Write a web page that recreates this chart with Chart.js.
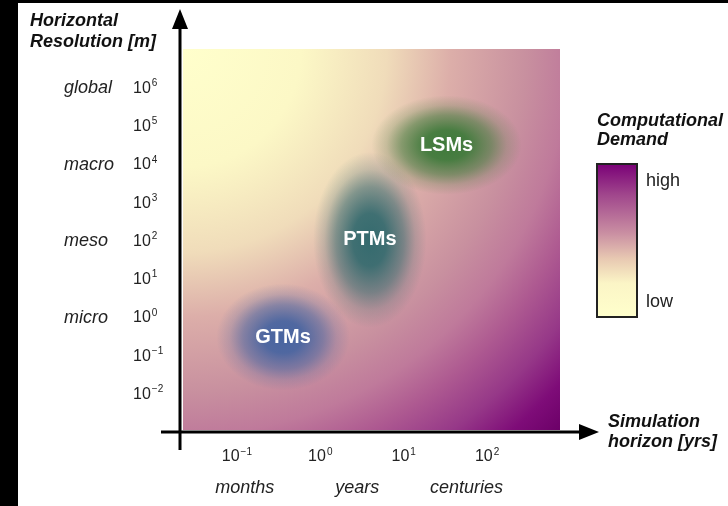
<!DOCTYPE html>
<html>
<head>
<meta charset="utf-8">
<script src="https://cdn.jsdelivr.net/npm/chart.js@4.4.0/dist/chart.umd.min.js"></script>
<style>
  html, body { margin: 0; padding: 0; background: #fff; }
  #wrap { position: relative; width: 728px; height: 506px; }
</style>
</head>
<body>
<div id="wrap"><canvas id="chart" width="728" height="506"></canvas></div>
<script>
// model groups, placed in log10 units of horizon (yrs) and resolution (m)
const modelNames = ['GTMs', 'PTMs', 'LSMs'];
const horizonLog = [-0.44, 0.6, 1.52];
const resolutionLog = [-0.5, 2.04, 4.52];
const horizonSpread = [0.8, 0.68, 0.9];
const resolutionSpread = [1.4, 2.3, 1.3];

// tick exponents and the named ranges next to them
const xTickExp = [-1, 0, 1, 2];
const yTickExp = [6, 5, 4, 3, 2, 1, 0, -1, -2];
const xNames = ['months', 'years', 'centuries'];
const xNamesAt = [-0.9, 0.45, 1.76];
const yNames = ['global', 'macro', 'meso', 'micro'];
const yNamesAt = [6, 4, 2, 0];

const blobColors = ['66,98,160', '46,104,108', '56,120,54'];
const FONT = "'Liberation Sans', Arial, sans-serif";

function supText(ctx, exp, x, y, align) {
  const e = exp < 0 ? '\u2212' + Math.abs(exp) : String(exp);
  ctx.font = '16px ' + FONT;
  const wb = ctx.measureText('10').width;
  ctx.font = '10px ' + FONT;
  const we = ctx.measureText(e).width;
  let x0 = align === 'center' ? x - (wb + we) / 2 : x;
  ctx.textAlign = 'left';
  ctx.textBaseline = 'middle';
  ctx.font = '16px ' + FONT;
  ctx.fillText('10', x0, y);
  ctx.font = '10px ' + FONT;
  ctx.fillText(e, x0 + wb + 1, y - 5);
}

const backdrop = {
  id: 'backdrop',
  beforeDatasetsDraw(chart) {
    const { ctx, chartArea: a } = chart;
    const r = Math.hypot(a.right - a.left, a.bottom - a.top);
    const g = ctx.createRadialGradient(a.left, a.top, 0, a.left, a.top, r);
    g.addColorStop(0, '#ffffcc');
    g.addColorStop(0.22, '#fcf8c6');
    g.addColorStop(0.38, '#f0dcba');
    g.addColorStop(0.5, '#dcaea9');
    g.addColorStop(0.64, '#c8909f');
    g.addColorStop(0.72, '#bf7a9b');
    g.addColorStop(0.79, '#ae5a91');
    g.addColorStop(0.87, '#963888');
    g.addColorStop(0.94, '#7e0c78');
    g.addColorStop(1, '#6c0068');
    ctx.save();
    ctx.fillStyle = g;
    ctx.fillRect(a.left, a.top, a.right - a.left, a.bottom - a.top);

    const xs = chart.scales.x, ys = chart.scales.y;
    modelNames.forEach((name, i) => {
      const cx = xs.getPixelForValue(horizonLog[i]);
      const cy = ys.getPixelForValue(resolutionLog[i]);
      const rx = Math.abs(xs.getPixelForValue(horizonLog[i] + horizonSpread[i]) - cx);
      const ry = Math.abs(ys.getPixelForValue(resolutionLog[i] + resolutionSpread[i]) - cy);
      ctx.save();
      ctx.translate(cx, cy);
      ctx.scale(rx, ry);
      const bg = ctx.createRadialGradient(0, 0, 0, 0, 0, 1);
      const c = blobColors[i];
      bg.addColorStop(0, 'rgba(' + c + ',0.96)');
      bg.addColorStop(0.3, 'rgba(' + c + ',0.9)');
      bg.addColorStop(0.6, 'rgba(' + c + ',0.55)');
      bg.addColorStop(0.8, 'rgba(' + c + ',0.2)');
      bg.addColorStop(1, 'rgba(' + c + ',0)');
      ctx.fillStyle = bg;
      ctx.beginPath();
      ctx.arc(0, 0, 1, 0, Math.PI * 2);
      ctx.fill();
      ctx.restore();
    });
    ctx.restore();
  },
  afterDraw(chart) {
    const { ctx } = chart;
    const xs = chart.scales.x, ys = chart.scales.y;
    ctx.save();

    // black frame strips from the source picture
    ctx.fillStyle = '#000';
    ctx.fillRect(0, 0, 18, 506);
    ctx.fillRect(0, 0, 728, 3);

    // model labels
    ctx.fillStyle = '#fff';
    ctx.font = 'bold 20px ' + FONT;
    ctx.textAlign = 'center';
    ctx.textBaseline = 'middle';
    modelNames.forEach((name, i) => {
      ctx.fillText(name, xs.getPixelForValue(horizonLog[i]), ys.getPixelForValue(resolutionLog[i]));
    });

    // axes with arrows
    const ax = 180, ay = 432;
    ctx.strokeStyle = '#000';
    ctx.fillStyle = '#000';
    ctx.lineWidth = 3;
    ctx.beginPath();
    ctx.moveTo(ax, 450); ctx.lineTo(ax, 26);
    ctx.moveTo(161, ay); ctx.lineTo(582, ay);
    ctx.stroke();
    ctx.beginPath();
    ctx.moveTo(ax, 9); ctx.lineTo(ax - 8, 29); ctx.lineTo(ax + 8, 29); ctx.closePath();
    ctx.fill();
    ctx.beginPath();
    ctx.moveTo(599, ay); ctx.lineTo(579, ay - 8); ctx.lineTo(579, ay + 8); ctx.closePath();
    ctx.fill();

    // tick labels
    ctx.fillStyle = '#222';
    yTickExp.forEach(e => supText(ctx, e, 133, ys.getPixelForValue(e), 'left'));
    xTickExp.forEach(e => supText(ctx, e, xs.getPixelForValue(e), 457, 'center'));

    ctx.font = 'italic 18px ' + FONT;
    ctx.textBaseline = 'middle';
    ctx.textAlign = 'left';
    yNames.forEach((n, i) => ctx.fillText(n, 64, ys.getPixelForValue(yNamesAt[i])));
    ctx.textAlign = 'center';
    xNames.forEach((n, i) => ctx.fillText(n, xs.getPixelForValue(xNamesAt[i]), 488));

    // axis titles
    ctx.fillStyle = '#111';
    ctx.font = 'italic bold 18px ' + FONT;
    ctx.textAlign = 'left';
    ctx.textBaseline = 'alphabetic';
    ctx.fillText('Horizontal', 30, 26);
    ctx.fillText('Resolution [m]', 30, 47);
    ctx.fillText('Simulation', 608, 427);
    ctx.fillText('horizon [yrs]', 608, 447);
    ctx.fillText('Computational', 597, 126);
    ctx.fillText('Demand', 597, 145);

    // colour bar
    const bx = 597, by = 164, bw = 40, bh = 153;
    const cg = ctx.createLinearGradient(0, by, 0, by + bh);
    cg.addColorStop(0, '#7a0177');
    cg.addColorStop(0.2, '#a0468c');
    cg.addColorStop(0.45, '#c98ea2');
    cg.addColorStop(0.62, '#e8c9b2');
    cg.addColorStop(0.78, '#fbf5c6');
    cg.addColorStop(1, '#ffffcc');
    ctx.fillStyle = cg;
    ctx.fillRect(bx, by, bw, bh);
    ctx.lineWidth = 2;
    ctx.strokeStyle = '#222';
    ctx.strokeRect(bx, by, bw, bh);
    ctx.fillStyle = '#222';
    ctx.font = '18px ' + FONT;
    ctx.textBaseline = 'middle';
    ctx.fillText('high', 646, 181);
    ctx.fillText('low', 646, 302);
    ctx.restore();
  }
};

new Chart(document.getElementById('chart'), {
  type: 'scatter',
  data: {
    datasets: [{
      label: 'models',
      data: modelNames.map((n, i) => ({ x: horizonLog[i], y: resolutionLog[i] })),
      pointRadius: 0
    }]
  },
  options: {
    responsive: false,
    animation: false,
    layout: { padding: { left: 183, top: 49, right: 168, bottom: 76 } },
    plugins: { legend: { display: false }, tooltip: { enabled: false } },
    scales: {
      x: { type: 'linear', min: -1.64, max: 2.88, display: false },
      y: { type: 'linear', min: -2.93, max: 7.03, display: false }
    }
  },
  plugins: [backdrop]
});
</script>
</body>
</html>
